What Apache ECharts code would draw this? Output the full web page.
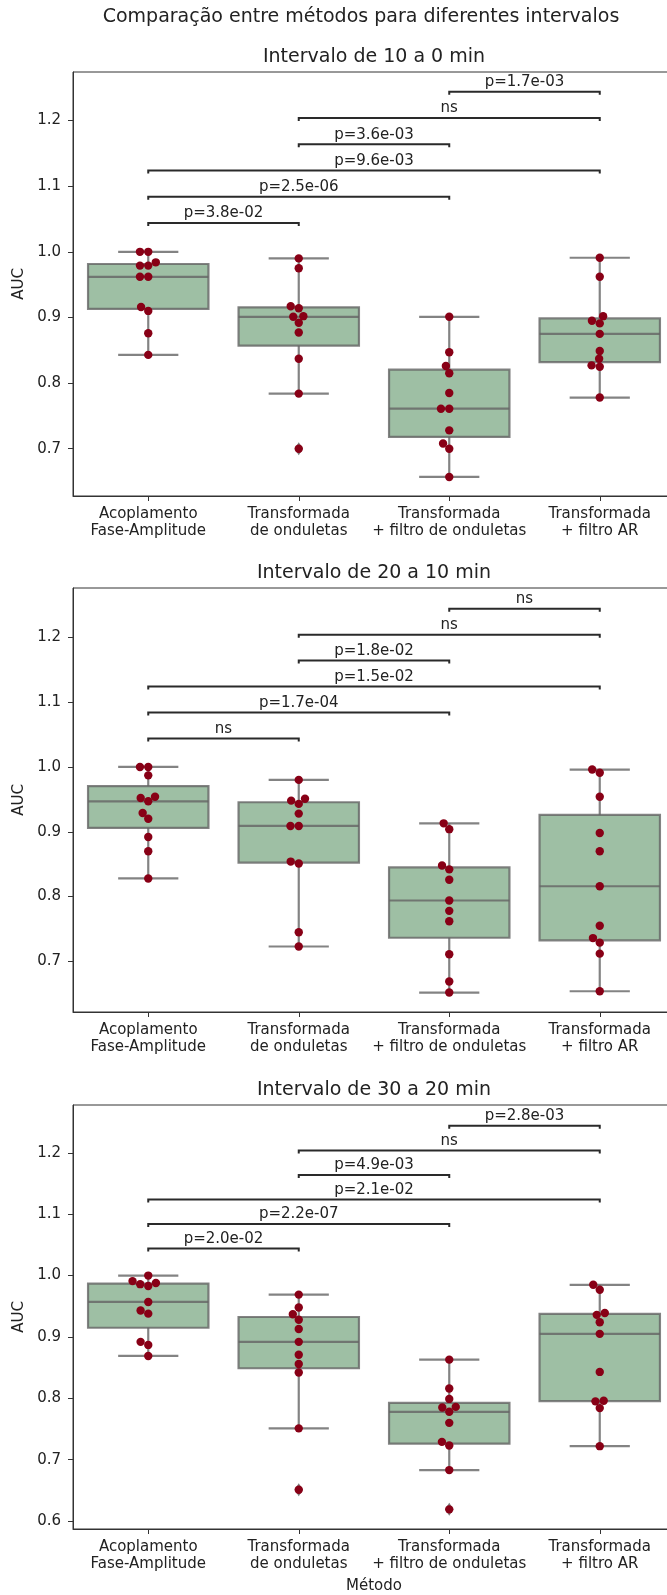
<!DOCTYPE html>
<html>
<head>
<meta charset="utf-8">
<script src="https://cdn.jsdelivr.net/npm/echarts@6/dist/echarts.min.js"></script>
<style>
  html, body { margin: 0; padding: 0; background: #fff; overflow: hidden; }
  #chart { width: 680px; height: 1595px; }
</style>
</head>
<body>
<div id="chart"></div>
<script>
// ---- data ---------------------------------------------------------------
const categories = [
  'Acoplamento\nFase-Amplitude',
  'Transformada\nde onduletas',
  'Transformada\n+ filtro de onduletas',
  'Transformada\n+ filtro AR'
];

const suptitle = 'Comparação entre métodos para diferentes intervalos';
const panelTitles = ['Intervalo de 10 a 0 min', 'Intervalo de 20 a 10 min', 'Intervalo de 30 a 20 min'];

// AUC per method (one inner array per category), 11 recordings each
const auc_10_0 = [
  [1.000, 1.000, 0.984, 0.979, 0.979, 0.962, 0.962, 0.916, 0.910, 0.876, 0.843],
  [0.990, 0.975, 0.917, 0.914, 0.902, 0.901, 0.892, 0.877, 0.837, 0.784, 0.700],
  [0.901, 0.847, 0.826, 0.815, 0.785, 0.761, 0.761, 0.728, 0.708, 0.700, 0.657],
  [0.991, 0.962, 0.902, 0.895, 0.891, 0.875, 0.849, 0.837, 0.827, 0.825, 0.778]
];
const auc_20_10 = [
  [1.000, 1.000, 0.987, 0.954, 0.952, 0.947, 0.929, 0.920, 0.892, 0.870, 0.828],
  [0.980, 0.951, 0.948, 0.943, 0.928, 0.909, 0.909, 0.854, 0.851, 0.745, 0.723],
  [0.913, 0.904, 0.848, 0.842, 0.826, 0.794, 0.778, 0.762, 0.711, 0.669, 0.652],
  [0.996, 0.991, 0.954, 0.898, 0.870, 0.816, 0.755, 0.736, 0.729, 0.712, 0.654]
];
const auc_30_20 = [
  [1.000, 0.991, 0.988, 0.986, 0.983, 0.957, 0.943, 0.938, 0.892, 0.887, 0.869],
  [0.969, 0.948, 0.937, 0.928, 0.913, 0.892, 0.871, 0.856, 0.842, 0.751, 0.651],
  [0.863, 0.816, 0.799, 0.786, 0.785, 0.778, 0.760, 0.729, 0.723, 0.683, 0.619],
  [0.985, 0.977, 0.939, 0.936, 0.924, 0.905, 0.843, 0.796, 0.795, 0.784, 0.722]
];

// y-axis limits and tick labels of each panel
const yRange_10_0 = [0.628, 1.274];
const yRange_20_10 = [0.622, 1.276];
const yRange_30_20 = [0.587, 1.278];
const yTicks_10_0 = [0.7, 0.8, 0.9, 1.0, 1.1, 1.2];
const yTicks_20_10 = [0.7, 0.8, 0.9, 1.0, 1.1, 1.2];
const yTicks_30_20 = [0.6, 0.7, 0.8, 0.9, 1.0, 1.1, 1.2];

// pairwise comparisons: category pairs, bracket heights, test annotations
const bracketPairs = [[0, 1], [0, 2], [0, 3], [1, 2], [1, 3], [2, 3]];
const bracketLevels = [1.044, 1.084, 1.124, 1.164, 1.204, 1.244];
const pLabels_10_0 = ['p=3.8e-02', 'p=2.5e-06', 'p=9.6e-03', 'p=3.6e-03', 'ns', 'p=1.7e-03'];
const pLabels_20_10 = ['ns', 'p=1.7e-04', 'p=1.5e-02', 'p=1.8e-02', 'ns', 'ns'];
const pLabels_30_20 = ['p=2.0e-02', 'p=2.2e-07', 'p=2.1e-02', 'p=4.9e-03', 'ns', 'p=2.8e-03'];

// ---- styling ----------------------------------------------------------------
const FONT = '"DejaVu Sans", "Liberation Sans", sans-serif';
const TXT = '#222222';
const AXIS = '#333333';
const BOX_FILL = '#9ebfa4';
const BOX_LINE = 'rgba(100,100,100,0.8)';
const DOT = '#880016';
const DOT_R = 4.2;
const SWARM_D = 7.9;
const GRID_LEFT = 73;
const GRID_WIDTH = 602;
const GRID_TOPS = [72, 588, 1105];
const GRID_HEIGHT = 424;

const panels = [
  { values: auc_10_0, range: yRange_10_0, ticks: yTicks_10_0, labels: pLabels_10_0, title: panelTitles[0] },
  { values: auc_20_10, range: yRange_20_10, ticks: yTicks_20_10, labels: pLabels_20_10, title: panelTitles[1] },
  { values: auc_30_20, range: yRange_30_20, ticks: yTicks_30_20, labels: pLabels_30_20, title: panelTitles[2] }
];

// ---- statistics -------------------------------------------------------------
function percentile(sorted, p) {
  const pos = p * (sorted.length - 1);
  const lo = Math.floor(pos);
  const hi = Math.ceil(pos);
  return sorted[lo] + (sorted[hi] - sorted[lo]) * (pos - lo);
}
function boxStats(values) {
  const s = values.slice().sort((a, b) => a - b);
  const q1 = percentile(s, 0.25), med = percentile(s, 0.5), q3 = percentile(s, 0.75);
  const iqr = q3 - q1;
  const inside = s.filter(v => v >= q1 - 1.5 * iqr && v <= q3 + 1.5 * iqr);
  return [inside[0], q1, med, q3, inside[inside.length - 1]];
}

// beeswarm layout in pixel space (points placed in ascending value order)
function swarmOffsets(pys, d) {
  const order = pys.map((y, i) => i).sort((a, b) => pys[b] - pys[a]);
  const placed = [];
  const off = new Array(pys.length).fill(0);
  order.forEach(i => {
    const yi = pys[i];
    const neigh = placed.filter(p => Math.abs(p.y - yi) < d);
    const cands = [0];
    let leftFirst = true;
    neigh.forEach(p => {
      const dx = Math.sqrt(Math.max(d * d - (p.y - yi) * (p.y - yi), 0)) * 1.05;
      if (leftFirst) cands.push(p.x - dx, p.x + dx); else cands.push(p.x + dx, p.x - dx);
      leftFirst = !leftFirst;
    });
    const sorted = cands.map((x, k) => ({ x, k }))
      .sort((a, b) => (Math.abs(a.x) - Math.abs(b.x)) || (a.k - b.k));
    let chosen = 0;
    for (const c of sorted) {
      if (neigh.every(p => (p.x - c.x) * (p.x - c.x) + (p.y - yi) * (p.y - yi) >= d * d * 0.999)) {
        chosen = c.x;
        break;
      }
    }
    placed.push({ x: chosen, y: yi });
    off[i] = chosen;
  });
  return off;
}

// ---- renderers --------------------------------------------------------------
function boxRenderer(groups) {
  return function (params, api) {
    const ci = api.value(0);
    const lo = api.value(1), q1 = api.value(2), med = api.value(3), q3 = api.value(4), hi = api.value(5);
    const band = api.size([1, 0])[0];
    const half = band * 0.4, capHalf = band * 0.2;
    const cx = api.coord([ci, med])[0];
    const py = v => api.coord([ci, v])[1];
    const ln = (x1, y1, x2, y2) => ({
      type: 'line', shape: { x1, y1, x2, y2 },
      style: { stroke: BOX_LINE, lineWidth: 2.2 }
    });
    const children = [
      { type: 'rect', shape: { x: cx - half, y: py(q3), width: 2 * half, height: py(q1) - py(q3) },
        style: { fill: BOX_FILL, stroke: BOX_LINE, lineWidth: 2.2 } },
      ln(cx, py(q3), cx, py(hi)),
      ln(cx, py(q1), cx, py(lo)),
      ln(cx - capHalf, py(hi), cx + capHalf, py(hi)),
      ln(cx - capHalf, py(lo), cx + capHalf, py(lo)),
      ln(cx - half, py(med), cx + half, py(med))
    ];
    groups[ci].filter(v => v < lo || v > hi).forEach(v => {
      const y = py(v);
      children.push({
        type: 'polygon',
        shape: { points: [[cx, y - 6.5], [cx + 4.2, y], [cx, y + 6.5], [cx - 4.2, y]] },
        style: { fill: 'rgba(100,100,100,0.85)' }
      });
    });
    return { type: 'group', children };
  };
}

function pointRenderer(groups) {
  return function (params, api) {
    const ci = api.value(0), k = api.value(2);
    const vals = groups[ci];
    const pys = vals.map(v => api.coord([ci, v])[1]);
    const offs = swarmOffsets(pys, SWARM_D);
    const p = api.coord([ci, vals[k]]);
    return { type: 'circle', shape: { cx: p[0] + offs[k], cy: p[1], r: DOT_R }, style: { fill: DOT } };
  };
}

function bracketRenderer(labels) {
  return function (params, api) {
    const c1 = api.value(0), yv = api.value(1), c2 = api.value(2);
    const a = api.coord([c1, yv]), b = api.coord([c2, yv]);
    const tick = 3;
    return {
      type: 'group',
      children: [
        { type: 'polyline',
          shape: { points: [[a[0], a[1] + tick], [a[0], a[1]], [b[0], b[1]], [b[0], b[1] + tick]] },
          style: { stroke: '#2a2a2a', lineWidth: 2, fill: null } },
        { type: 'text', x: (a[0] + b[0]) / 2, y: a[1] - 9.5,
          style: { text: labels[params.dataIndex], fill: TXT, font: '15px ' + FONT,
                   align: 'center', verticalAlign: 'middle', textAlign: 'center', textVerticalAlign: 'middle' } }
      ]
    };
  };
}

// ---- option -----------------------------------------------------------------
const grids = [], xAxes = [], yAxes = [], series = [], graphics = [];

graphics.push({
  type: 'text', x: 361, y: 17,
  style: { text: suptitle, fill: TXT, font: '19px ' + FONT, align: 'center', verticalAlign: 'middle',
           textAlign: 'center', textVerticalAlign: 'middle' }
});

panels.forEach((pn, i) => {
  grids.push({
    left: GRID_LEFT, top: GRID_TOPS[i], width: GRID_WIDTH, height: GRID_HEIGHT,
    show: true, borderColor: AXIS, borderWidth: 1, backgroundColor: 'transparent'
  });
  graphics.push({
    type: 'text', x: GRID_LEFT + GRID_WIDTH / 2, y: GRID_TOPS[i] - 15,
    style: { text: pn.title, fill: TXT, font: '19px ' + FONT, align: 'center', verticalAlign: 'middle',
             textAlign: 'center', textVerticalAlign: 'middle' }
  });
  xAxes.push({
    type: 'category', gridIndex: i, data: categories, boundaryGap: true,
    axisLine: { show: true, lineStyle: { color: AXIS, width: 1 } },
    axisTick: { show: true, alignWithLabel: true, length: 5, lineStyle: { color: AXIS } },
    axisLabel: { interval: 0, fontSize: 15, lineHeight: 17, margin: 10, color: TXT, fontFamily: FONT },
    splitLine: { show: false },
    name: i === 2 ? 'Método' : '',
    nameLocation: 'middle', nameGap: 50,
    nameTextStyle: { fontSize: 15, color: TXT, fontFamily: FONT }
  });
  yAxes.push({
    type: 'value', gridIndex: i, min: pn.range[0], max: pn.range[1],
    axisLine: { show: true, lineStyle: { color: AXIS, width: 1 } },
    axisTick: { show: true, length: 5, customValues: pn.ticks, lineStyle: { color: AXIS } },
    axisLabel: { customValues: pn.ticks, formatter: v => Number(v).toFixed(1),
                 fontSize: 15, color: TXT, fontFamily: FONT, margin: 12 },
    splitLine: { show: false },
    name: 'AUC', nameLocation: 'middle', nameGap: 44,
    nameTextStyle: { fontSize: 15, color: TXT, fontFamily: FONT }
  });

  series.push({
    type: 'custom', name: 'box-' + i, xAxisIndex: i, yAxisIndex: i, z: 2,
    renderItem: boxRenderer(pn.values),
    data: pn.values.map((vals, ci) => [ci].concat(boxStats(vals)))
  });

  const pts = [];
  pn.values.forEach((vals, ci) => vals.forEach((v, k) => pts.push([ci, v, k])));
  series.push({
    type: 'custom', name: 'swarm-' + i, xAxisIndex: i, yAxisIndex: i, z: 3,
    renderItem: pointRenderer(pn.values),
    data: pts
  });

  series.push({
    type: 'custom', name: 'stats-' + i, xAxisIndex: i, yAxisIndex: i, z: 4,
    renderItem: bracketRenderer(pn.labels),
    data: bracketPairs.map((pr, k) => [pr[0], bracketLevels[k], pr[1]])
  });
});

const chart = echarts.init(document.getElementById('chart'), null, { renderer: 'canvas' });
chart.setOption({
  animation: false,
  backgroundColor: '#ffffff',
  textStyle: { fontFamily: FONT },
  grid: grids,
  xAxis: xAxes,
  yAxis: yAxes,
  series: series,
  graphic: graphics
});
</script>
</body>
</html>
